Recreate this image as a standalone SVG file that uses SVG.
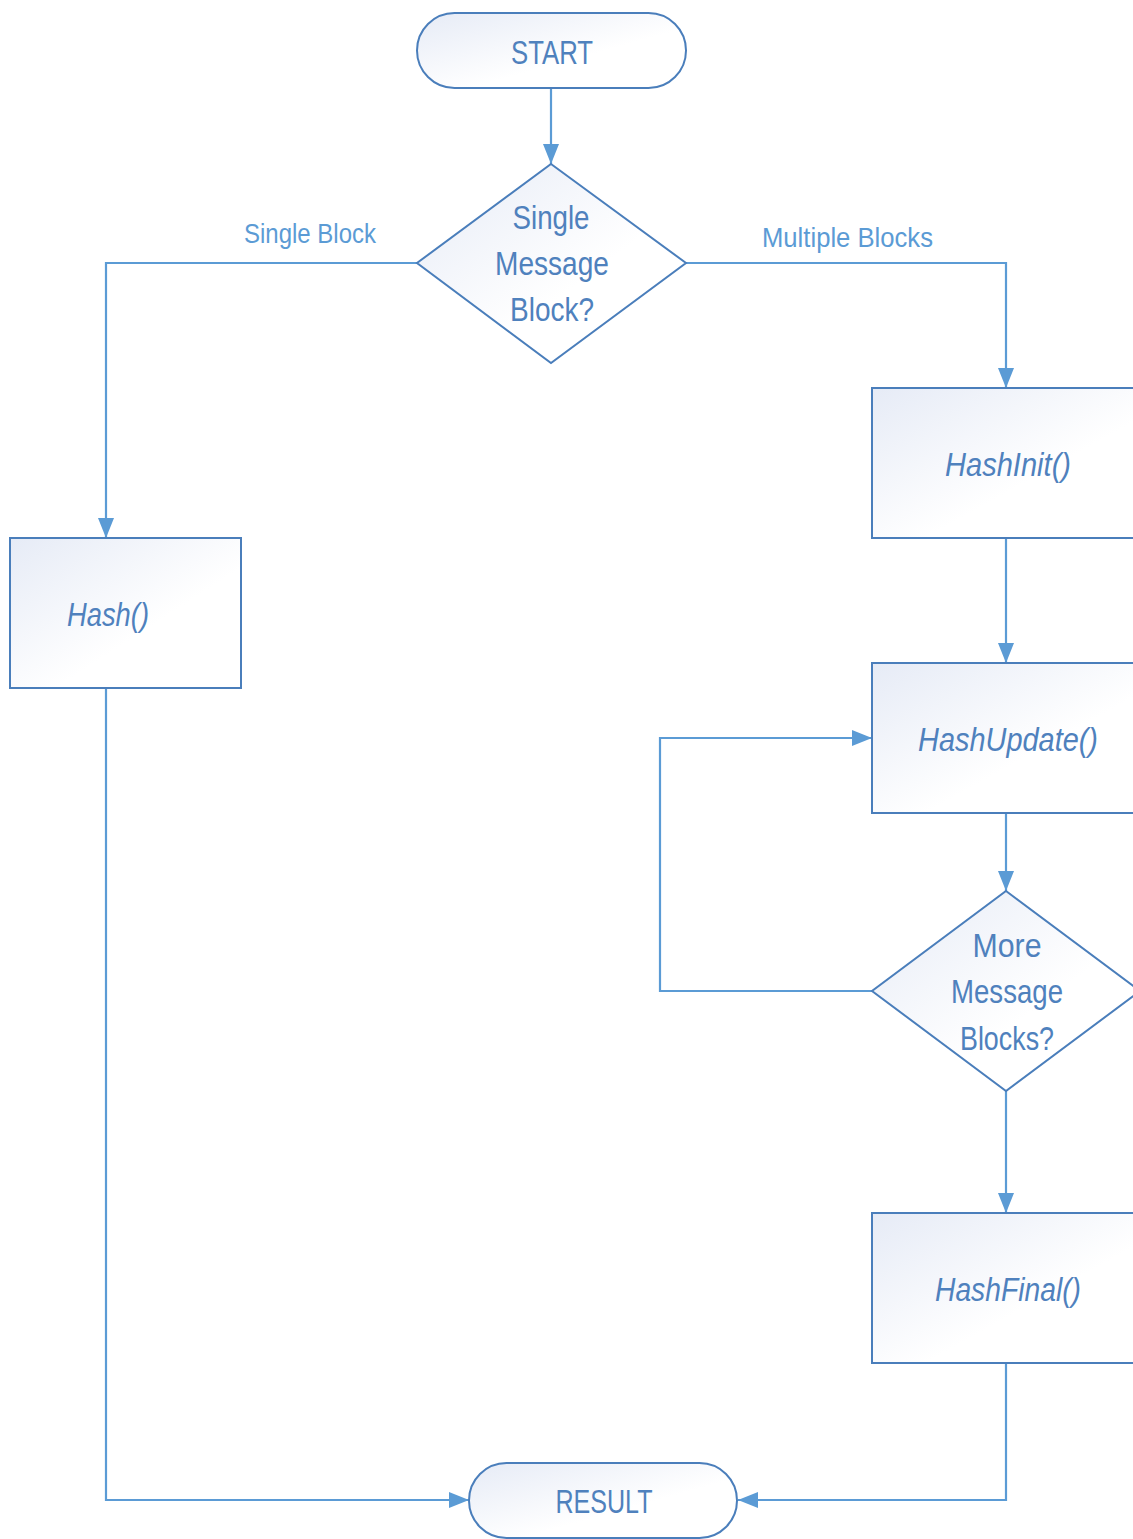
<svg xmlns="http://www.w3.org/2000/svg" width="1133" height="1539" viewBox="0 0 1133 1539">
<defs>
<linearGradient id="g" x1="0" y1="0" x2="1" y2="1">
<stop offset="0" stop-color="#e6ebf6"/>
<stop offset="0.6" stop-color="#ffffff"/>
<stop offset="1" stop-color="#ffffff"/>
</linearGradient>
<marker id="arr" viewBox="0 0 20 16" refX="20" refY="8" markerWidth="20" markerHeight="16" markerUnits="userSpaceOnUse" orient="auto">
<path d="M0,0 L20,8 L0,16 Z" fill="#5b9bd5"/>
</marker>
<style>
.n{fill:url(#g);stroke:#4a7ebb;stroke-width:2}
.t{font-family:"Liberation Sans",Arial,sans-serif;font-size:34px;fill:#4f81bd;text-anchor:middle}
.i{font-style:italic}
.c{fill:none;stroke:#5b9bd5;stroke-width:2.2}
.l{font-family:"Liberation Sans",Arial,sans-serif;font-size:28px;fill:#5b9bd5}
</style>
</defs>
<rect width="1133" height="1539" fill="#ffffff"/>
<g id="connectors">
<path class="c" d="M551,88 V164" marker-end="url(#arr)"/>
<path class="c" d="M417,263 H106 V538" marker-end="url(#arr)"/>
<path class="c" d="M686,263 H1006 V388" marker-end="url(#arr)"/>
<path class="c" d="M1006,538 V663" marker-end="url(#arr)"/>
<path class="c" d="M1006,813 V891" marker-end="url(#arr)"/>
<path class="c" d="M872,991 H660 V738 H872" marker-end="url(#arr)"/>
<path class="c" d="M1006,1091 V1213" marker-end="url(#arr)"/>
<path class="c" d="M1006,1363 V1500 H738" marker-end="url(#arr)"/>
<path class="c" d="M106,688 V1500 H469" marker-end="url(#arr)"/>
<text class="l" x="244" y="243" textLength="132" lengthAdjust="spacingAndGlyphs">Single Block</text>
<text class="l" x="762" y="247" textLength="171" lengthAdjust="spacingAndGlyphs">Multiple Blocks</text>
</g>
<g id="start">
<rect class="n" x="417" y="13" width="269" height="75" rx="37.5"/>
<text class="t" x="552" y="64" textLength="82" lengthAdjust="spacingAndGlyphs">START</text>
</g>
<g id="decision1">
<polygon class="n" points="551,164 686,263 551,363 417,263"/>
<text class="t" x="551" y="229" textLength="77" lengthAdjust="spacingAndGlyphs">Single</text>
<text class="t" x="552" y="275" textLength="114" lengthAdjust="spacingAndGlyphs">Message</text>
<text class="t" x="552" y="321" textLength="84" lengthAdjust="spacingAndGlyphs">Block?</text>
</g>
<g id="hash">
<rect class="n" x="10" y="538" width="231" height="150"/>
<text class="t i" x="108" y="626" textLength="82" lengthAdjust="spacingAndGlyphs">Hash()</text>
</g>
<g id="hashinit">
<rect class="n" x="872" y="388" width="269" height="150"/>
<text class="t i" x="1008" y="476" textLength="126" lengthAdjust="spacingAndGlyphs">HashInit()</text>
</g>
<g id="hashupdate">
<rect class="n" x="872" y="663" width="269" height="150"/>
<text class="t i" x="1008" y="751" textLength="180" lengthAdjust="spacingAndGlyphs">HashUpdate()</text>
</g>
<g id="decision2">
<polygon class="n" points="1006,891 1140,991 1006,1091 872,991"/>
<text class="t" x="1007" y="957" textLength="69" lengthAdjust="spacingAndGlyphs">More</text>
<text class="t" x="1007" y="1003" textLength="112" lengthAdjust="spacingAndGlyphs">Message</text>
<text class="t" x="1007" y="1050" textLength="94" lengthAdjust="spacingAndGlyphs">Blocks?</text>
</g>
<g id="hashfinal">
<rect class="n" x="872" y="1213" width="269" height="150"/>
<text class="t i" x="1008" y="1301" textLength="146" lengthAdjust="spacingAndGlyphs">HashFinal()</text>
</g>
<g id="result">
<rect class="n" x="469" y="1463" width="268" height="75" rx="37.5"/>
<text class="t" x="604" y="1513" textLength="97" lengthAdjust="spacingAndGlyphs">RESULT</text>
</g>
</svg>
